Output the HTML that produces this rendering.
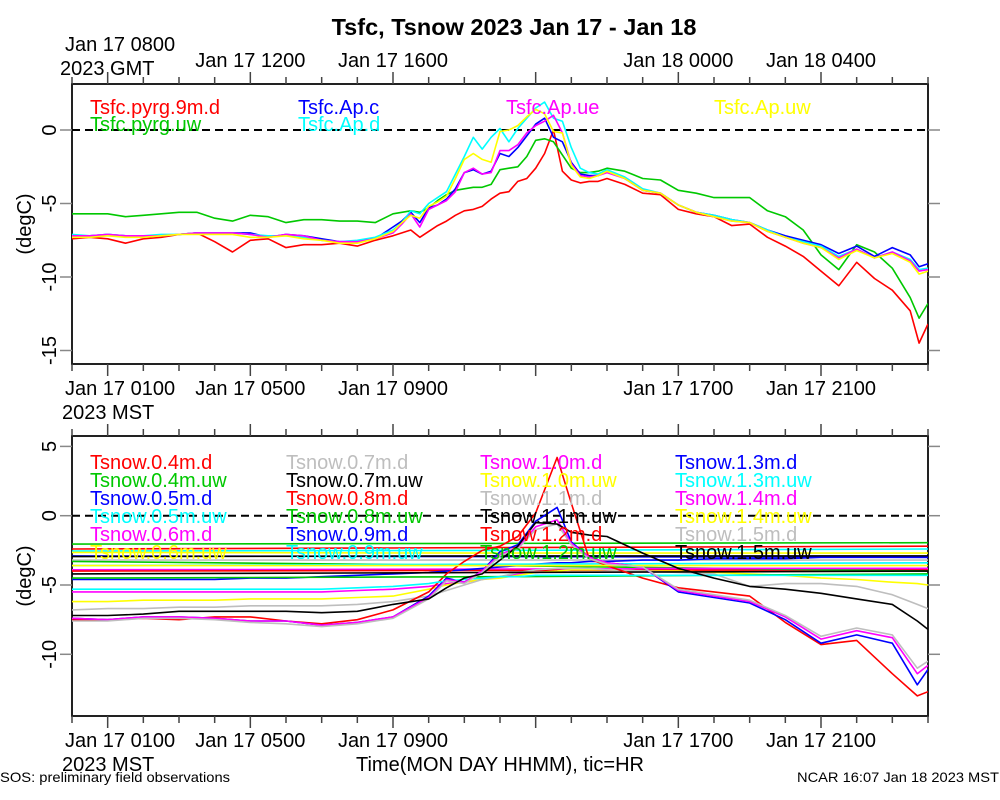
<!DOCTYPE html>
<html><head><meta charset="utf-8"><style>
html,body{margin:0;padding:0;background:#fff}
svg{display:block;font-family:"Liberation Sans",Arial,sans-serif}
</style></head><body>
<svg id="chart" width="1000" height="800" viewBox="0 0 1000 800" xmlns="http://www.w3.org/2000/svg">
<defs>
<clipPath id="clipTop"><rect x="72" y="84" width="856" height="280"/></clipPath>
<clipPath id="clipBot"><rect x="72" y="436" width="856" height="280"/></clipPath>
</defs>
<rect width="1000" height="800" fill="#fff"/>
<text x="514" y="35" text-anchor="middle" font-size="23.5" font-weight="bold">Tsfc, Tsnow 2023 Jan 17 - Jan 18</text>
<g id="axes"></g>
<g id="top-series" clip-path="url(#clipTop)"></g>
<g id="bot-series" clip-path="url(#clipBot)"></g>
<g id="legends"></g>
<text x="500" y="771" text-anchor="middle" font-size="20">Time(MON DAY HHMM), tic=HR</text>
<text x="0" y="782" font-size="14" textLength="230" lengthAdjust="spacingAndGlyphs">SOS: preliminary field observations</text>
<text x="797" y="782" font-size="14" textLength="202" lengthAdjust="spacingAndGlyphs">NCAR 16:07 Jan 18 2023 MST</text>
</svg>
<script>
// ---------- data: top panel (Tsfc) ----------
const TOP_HOURS = [0,0.5,1,1.5,2,2.5,3,3.5,4,4.5,5,5.5,6,6.5,7,7.5,8,8.5,9,
 9.25,9.5,9.75,10,10.25,10.5,10.75,11,11.25,11.5,11.75,12,12.25,12.5,12.75,13,13.25,13.5,13.75,14,14.25,14.5,14.75,15,
 15.5,16,16.5,17,17.5,18,18.5,19,19.5,20,20.5,21,21.5,22,22.5,23,23.5,23.75,24];
const tsfcPyrg9mD = [-7.4,-7.3,-7.4,-7.7,-7.4,-7.3,-7.1,-7.0,-7.6,-8.3,-7.5,-7.4,-8.0,-7.8,-7.8,-7.7,-7.9,-7.5,-7.2,
 -7.0,-6.8,-7.3,-6.9,-6.5,-6.2,-5.8,-5.5,-5.4,-5.2,-4.7,-4.3,-4.2,-3.5,-3.3,-2.6,-1.6,0.0,-2.8,-3.4,-3.6,-3.5,-3.5,-3.3,
 -3.7,-4.3,-4.4,-5.4,-5.7,-5.9,-6.5,-6.4,-7.3,-7.9,-8.6,-9.6,-10.6,-9.0,-10.1,-10.9,-12.3,-14.5,-13.2];
const tsfcPyrgUw = [-5.7,-5.7,-5.7,-5.9,-5.8,-5.7,-5.6,-5.6,-6.0,-6.2,-5.8,-5.9,-6.3,-6.1,-6.1,-6.2,-6.2,-6.3,-5.7,
 -5.6,-5.5,-5.6,-5.3,-4.8,-4.4,-4.1,-4.0,-3.9,-3.9,-3.7,-2.7,-2.6,-2.5,-1.8,-0.7,-0.6,-0.8,-1.7,-2.6,-2.9,-2.9,-2.8,-2.6,
 -2.8,-3.3,-3.4,-4.1,-4.3,-4.6,-4.6,-4.6,-5.5,-5.9,-6.8,-8.5,-9.5,-7.8,-8.3,-9.4,-11.4,-12.8,-11.8];
const tsfcApC = [-7.2,-7.2,-7.1,-7.2,-7.2,-7.2,-7.1,-7.0,-7.0,-7.0,-7.0,-7.3,-7.1,-7.2,-7.4,-7.6,-7.6,-7.4,-6.6,
 -6.2,-5.6,-6.3,-5.3,-5.1,-4.7,-4.0,-2.9,-2.7,-3.0,-2.8,-1.6,-1.8,-1.2,-0.4,0.4,0.8,-0.5,-0.8,-2.2,-3.0,-3.1,-3.1,-2.8,
 -3.3,-4.1,-4.3,-5.1,-5.6,-5.8,-6.1,-6.3,-6.8,-7.2,-7.5,-7.8,-8.4,-7.9,-8.6,-8.0,-8.5,-9.3,-9.1];
const tsfcApD = [-7.1,-7.2,-7.1,-7.2,-7.2,-7.1,-7.1,-7.0,-7.0,-7.0,-7.1,-7.2,-7.2,-7.3,-7.5,-7.6,-7.5,-7.3,-6.8,
 -6.3,-5.5,-5.7,-5.0,-4.6,-4.2,-3.0,-1.8,-0.5,-1.3,-0.5,0.1,-0.8,0.1,0.8,1.5,1.9,0.8,0.6,-1.2,-2.6,-2.9,-3.0,-2.7,
 -3.2,-4.0,-4.3,-5.1,-5.6,-5.8,-6.1,-6.3,-6.8,-7.3,-7.6,-7.9,-8.6,-8.1,-8.7,-8.3,-8.8,-9.5,-9.4];
const tsfcApUe = [-7.2,-7.2,-7.1,-7.2,-7.2,-7.2,-7.1,-7.0,-7.0,-7.0,-7.1,-7.3,-7.1,-7.2,-7.5,-7.6,-7.6,-7.4,-7.0,
 -6.4,-5.7,-6.6,-5.4,-5.1,-4.8,-4.2,-2.9,-2.6,-3.0,-2.9,-1.4,-1.4,-1.0,-0.2,0.3,0.6,1.0,-0.2,-2.3,-3.1,-3.2,-3.1,-2.9,
 -3.3,-4.1,-4.3,-5.1,-5.6,-5.9,-6.2,-6.3,-6.9,-7.3,-7.7,-8.0,-8.7,-8.1,-8.7,-8.3,-8.9,-9.6,-9.5];
const tsfcApUw = [-7.3,-7.3,-7.2,-7.3,-7.3,-7.2,-7.1,-7.1,-7.1,-7.1,-7.3,-7.3,-7.2,-7.4,-7.5,-7.7,-7.7,-7.4,-6.9,
 -6.3,-5.8,-6.0,-5.2,-4.9,-4.5,-3.3,-2.0,-1.6,-2.0,-2.2,-0.1,0.0,0.3,0.9,1.4,1.1,-0.1,-0.2,-2.4,-3.2,-3.3,-3.1,-2.8,
 -3.3,-4.1,-4.3,-5.1,-5.6,-5.9,-6.2,-6.3,-6.9,-7.3,-7.7,-8.0,-8.8,-8.2,-8.7,-8.4,-9.0,-9.8,-9.6];
const TOP_NAMES = ["Tsfc.pyrg.9m.d","Tsfc.pyrg.uw","Tsfc.Ap.c","Tsfc.Ap.d","Tsfc.Ap.ue","Tsfc.Ap.uw"];

// ---------- data: bottom panel (Tsnow) ----------
const BOT_HOURS = [0,1,2,3,4,5,6,7,8,9,10,10.5,11,11.5,12,12.5,13,13.6,14,14.5,15,16,17,18,19,20,21,22,23,23.7,24];
const FLAT_HOURS = [0,12,24];
const tsnow04mD = [-2.4,-2.3,-2.2];
const tsnow04mUw = [-2.05,-2.0,-1.95];
const tsnow05mD = [-2.9,-2.95,-3.0];
const tsnow05mUw = [-2.55,-2.5,-2.4];
const tsnow06mD = [-3.9,-3.85,-3.8];
const tsnow06mUw = [-2.65,-2.7,-2.7];
const tsnow07mD = [-3.2,-3.2,-3.2];
const tsnow07mUw = [-2.95,-2.9,-2.9];
const tsnow08mD = [-4.0,-3.95,-3.9];
const tsnow08mUw = [-3.3,-3.6,-4.0];
const tsnow09mD = [-4.6,-4.6,-4.6,-4.6,-4.6,-4.5,-4.5,-4.4,-4.3,-4.2,-4.1,-4.0,-3.9,-3.8,-3.7,-3.6,-3.5,-3.4,-3.4,-3.3,-3.3,-3.2,-3.2,-3.1,-3.1,-3.1,-3.0,-3.0,-3.0,-3.0,-3.0];
const tsnow09mUw = [-3.6,-3.5,-3.4];
const tsnow10mD = [-5.5,-5.5,-5.5,-5.5,-5.5,-5.5,-5.5,-5.5,-5.4,-5.3,-5.1,-4.9,-4.8,-4.6,-4.4,-4.2,-4.1,-4.0,-3.9,-3.9,-3.9,-3.8,-3.8,-3.8,-3.8,-3.8,-3.8,-3.8,-3.8,-3.8,-3.8];
const tsnow10mUw = [-6.2,-6.2,-6.1,-6.1,-6.1,-6.0,-6.0,-6.0,-5.9,-5.8,-5.3,-5.0,-4.8,-4.6,-4.5,-4.3,-4.1,-4.0,-3.9,-3.9,-3.9,-4.0,-4.0,-4.1,-4.2,-4.3,-4.5,-4.6,-4.8,-4.9,-5.0];
const tsnow11mD = [-6.8,-6.7,-6.7,-6.6,-6.6,-6.5,-6.5,-6.5,-6.4,-6.2,-5.8,-5.4,-5.0,-4.6,-4.4,-4.1,-3.9,-3.8,-3.8,-3.8,-3.9,-4.0,-4.1,-4.2,-5.1,-4.9,-4.9,-5.1,-5.7,-6.4,-6.7];
const tsnow11mUw = [-4.2,-4.1,-4.0];
const tsnow12mD = [-7.5,-7.5,-7.4,-7.5,-7.3,-7.3,-7.6,-7.8,-7.5,-6.8,-5.5,-4.2,-3.3,-2.5,-2.2,-1.5,0.2,4.2,0.9,-3.1,-3.6,-4.5,-5.2,-5.5,-5.8,-7.7,-9.3,-9.0,-11.4,-13.0,-12.7];
const tsnow12mUw = [-4.5,-4.4,-4.2];
const tsnow13mD = [-7.4,-7.5,-7.3,-7.3,-7.4,-7.6,-7.6,-7.9,-7.7,-7.3,-5.8,-4.5,-4.8,-4.0,-2.6,-2.1,-0.4,0.6,-1.9,-3.0,-3.4,-3.7,-5.5,-5.9,-6.3,-7.5,-9.2,-8.6,-9.2,-12.2,-11.1];
const tsnow13mUw = [-5.3,-5.3,-5.3,-5.3,-5.3,-5.3,-5.3,-5.3,-5.2,-5.1,-4.9,-4.7,-4.6,-4.5,-4.4,-4.4,-4.3,-4.3,-4.3,-4.3,-4.3,-4.3,-4.3,-4.3,-4.3,-4.3,-4.3,-4.3,-4.3,-4.3,-4.3];
const tsnow14mD = [-7.4,-7.5,-7.3,-7.3,-7.4,-7.6,-7.6,-7.9,-7.7,-7.3,-5.9,-4.6,-4.8,-4.0,-2.8,-2.3,-0.8,-0.3,-2.0,-3.0,-3.4,-3.7,-5.4,-5.8,-6.2,-7.3,-8.9,-8.3,-8.8,-11.4,-10.8];
const tsnow14mUw = [-3.6,-3.6,-3.6];
const tsnow15mD = [-7.6,-7.6,-7.4,-7.4,-7.5,-7.7,-7.8,-8.0,-7.8,-7.4,-6.0,-4.7,-4.9,-4.1,-2.9,-2.4,-1.0,-0.6,-2.1,-3.1,-3.5,-3.7,-5.3,-5.7,-6.1,-7.2,-8.7,-8.1,-8.6,-11.0,-10.5];
const tsnow15mUw = [-7.2,-7.2,-7.1,-6.9,-6.9,-6.9,-6.9,-7.0,-6.9,-6.4,-6.0,-5.2,-4.5,-4.2,-3.2,-2.2,-0.5,-0.6,-1.2,-1.4,-1.5,-2.7,-3.8,-4.5,-5.1,-5.3,-5.6,-6.0,-6.4,-7.6,-8.2];
const BOT_NAMES = ["Tsnow.0.4m.d","Tsnow.0.4m.uw","Tsnow.0.5m.d","Tsnow.0.5m.uw","Tsnow.0.6m.d","Tsnow.0.6m.uw",
 "Tsnow.0.7m.d","Tsnow.0.7m.uw","Tsnow.0.8m.d","Tsnow.0.8m.uw","Tsnow.0.9m.d","Tsnow.0.9m.uw",
 "Tsnow.1.0m.d","Tsnow.1.0m.uw","Tsnow.1.1m.d","Tsnow.1.1m.uw","Tsnow.1.2m.d","Tsnow.1.2m.uw",
 "Tsnow.1.3m.d","Tsnow.1.3m.uw","Tsnow.1.4m.d","Tsnow.1.4m.uw","Tsnow.1.5m.d","Tsnow.1.5m.uw"];
const TOP_YTICKS = [0,-5,-10,-15];
const BOT_YTICKS = [5,0,-5,-10];
const MST_LABEL_HOURS = [1,5,9,17,21];
const MST_LABELS = ["Jan 17 0100","Jan 17 0500","Jan 17 0900","Jan 17 1700","Jan 17 2100"];
const GMT_LABELS = ["Jan 17 0800","Jan 17 1200","Jan 17 1600","Jan 18 0000","Jan 18 0400"];

// ---------- rendering ----------
const NS="http://www.w3.org/2000/svg";
const COLORS=["#ff0000","#00c800","#0000ff","#00ffff","#ff00ff","#ffff00","#bebebe","#000000"];
const X0=72,X1=928;
function xs(h){return X0+(X1-X0)*h/24;}
function yTop(t){return 130-14.7*t;}
function yBot(t){return 515.7-13.86*t;}
function mk(tag,attrs,parent){const e=document.createElementNS(NS,tag);for(const k in attrs)e.setAttribute(k,attrs[k]);parent.appendChild(e);return e;}
const axes=document.getElementById('axes');
const legends=document.getElementById('legends');

function drawPanel(prefix,top,bot,yf,yticks,gmt){
  const r=mk('rect',{x:X0,y:top,width:X1-X0,height:bot-top,fill:'none',stroke:'#222','stroke-width':2},axes);
  
  
  for(let h=0;h<=24;h++){
    const major=(h%4===1);
    const len=major?12:7;
    const tb=mk('line',{x1:xs(h),x2:xs(h),y1:bot,y2:bot+len,stroke:'#444','stroke-width':1.5},axes);
    
    
    const tt=mk('line',{x1:xs(h),x2:xs(h),y1:top,y2:top-len,stroke:'#444','stroke-width':1.5},axes);
    
    
  }
  yticks.forEach(v=>{
    const y=yf(v);
    const tl=mk('line',{x1:X0-12,x2:X0,y1:y,y2:y,stroke:'#888','stroke-width':1.5},axes);
    
    
    const tr=mk('line',{x1:X1,x2:X1+12,y1:y,y2:y,stroke:'#888','stroke-width':1.5},axes);
    
    
    const t=mk('text',{x:56,y:y,'text-anchor':'middle','font-size':20,transform:'rotate(-90 56 '+y+')'},axes);
    t.textContent=String(v);
    
    
  });
  const cy=(top+bot)/2;
  const yl=mk('text',{x:31,y:cy,'text-anchor':'middle','font-size':20,transform:'rotate(-90 31 '+cy+')'},axes);
  yl.textContent='(degC)';
  
  
  const z=mk('line',{x1:X0,x2:X1,y1:yf(0),y2:yf(0),stroke:'#000','stroke-width':2,'stroke-dasharray':'8,5'},axes);
  
  
  const lb=bot+31;
  MST_LABEL_HOURS.forEach((h,i)=>{
    const first=i===0;
    const t=mk('text',{x:first?65:xs(h),y:lb,'text-anchor':first?'start':'middle','font-size':20},axes);
    t.textContent=MST_LABELS[i];
    
    
  });
  const m=mk('text',{x:62,y:lb+24,'font-size':20},axes);
  m.textContent='2023 MST';
  
  
  if(gmt){
    MST_LABEL_HOURS.forEach((h,i)=>{
      const first=i===0;
      const t=mk('text',{x:first?65:xs(h),y:first?51:67,'text-anchor':first?'start':'middle','font-size':20},axes);
      t.textContent=GMT_LABELS[i];
      
      
    });
    const g=mk('text',{x:60,y:75,'font-size':20},axes);
    g.textContent='2023 GMT';
    
    
  }
}
drawPanel('top',84,364,yTop,TOP_YTICKS,true);
drawPanel('bottom',436,716,yBot,BOT_YTICKS,false);

function drawLine(group,hours,vals,yf,color,name){
  const d=vals.map((v,i)=>(i?'L':'M')+xs(hours[i]).toFixed(1)+','+yf(v).toFixed(1)).join(' ');
  const p=mk('path',{d:d,fill:'none',stroke:color,'stroke-width':1.6,'stroke-linejoin':'round'},group);
  
  
}
const topG=document.getElementById('top-series');
const topSeries=[tsfcPyrg9mD,tsfcPyrgUw,tsfcApC,tsfcApD,tsfcApUe,tsfcApUw];
topSeries.forEach((s,i)=>drawLine(topG,TOP_HOURS,s,yTop,COLORS[i],'series-'+TOP_NAMES[i].toLowerCase().replace(/\./g,'-')));
const topLegendPos=[[90,114],[90,131],[298,114],[298,131],[506,114],[714,114]];
TOP_NAMES.forEach((n,i)=>{
  const t=mk('text',{x:topLegendPos[i][0],y:topLegendPos[i][1],'font-size':20,fill:COLORS[i]},legends);
  t.textContent=n;
  
  
});

const botG=document.getElementById('bot-series');
const botSeries=[tsnow04mD,tsnow04mUw,tsnow05mD,tsnow05mUw,tsnow06mD,tsnow06mUw,tsnow07mD,tsnow07mUw,tsnow08mD,tsnow08mUw,
 tsnow09mD,tsnow09mUw,tsnow10mD,tsnow10mUw,tsnow11mD,tsnow11mUw,tsnow12mD,tsnow12mUw,tsnow13mD,tsnow13mUw,tsnow14mD,tsnow14mUw,tsnow15mD,tsnow15mUw];
botSeries.forEach((s,i)=>drawLine(botG,s.length===FLAT_HOURS.length?FLAT_HOURS:BOT_HOURS,s,yBot,COLORS[i%8],'series-'+BOT_NAMES[i].toLowerCase().replace(/\./g,'-')));
const colX=[90,286,480,675];
BOT_NAMES.forEach((n,i)=>{
  const col=Math.floor(i/6),row=i%6;
  const t=mk('text',{x:colX[col],y:469+row*18,'font-size':20,fill:COLORS[i%8]},legends);
  t.textContent=n;
  
  
});
</script>
</body></html>
